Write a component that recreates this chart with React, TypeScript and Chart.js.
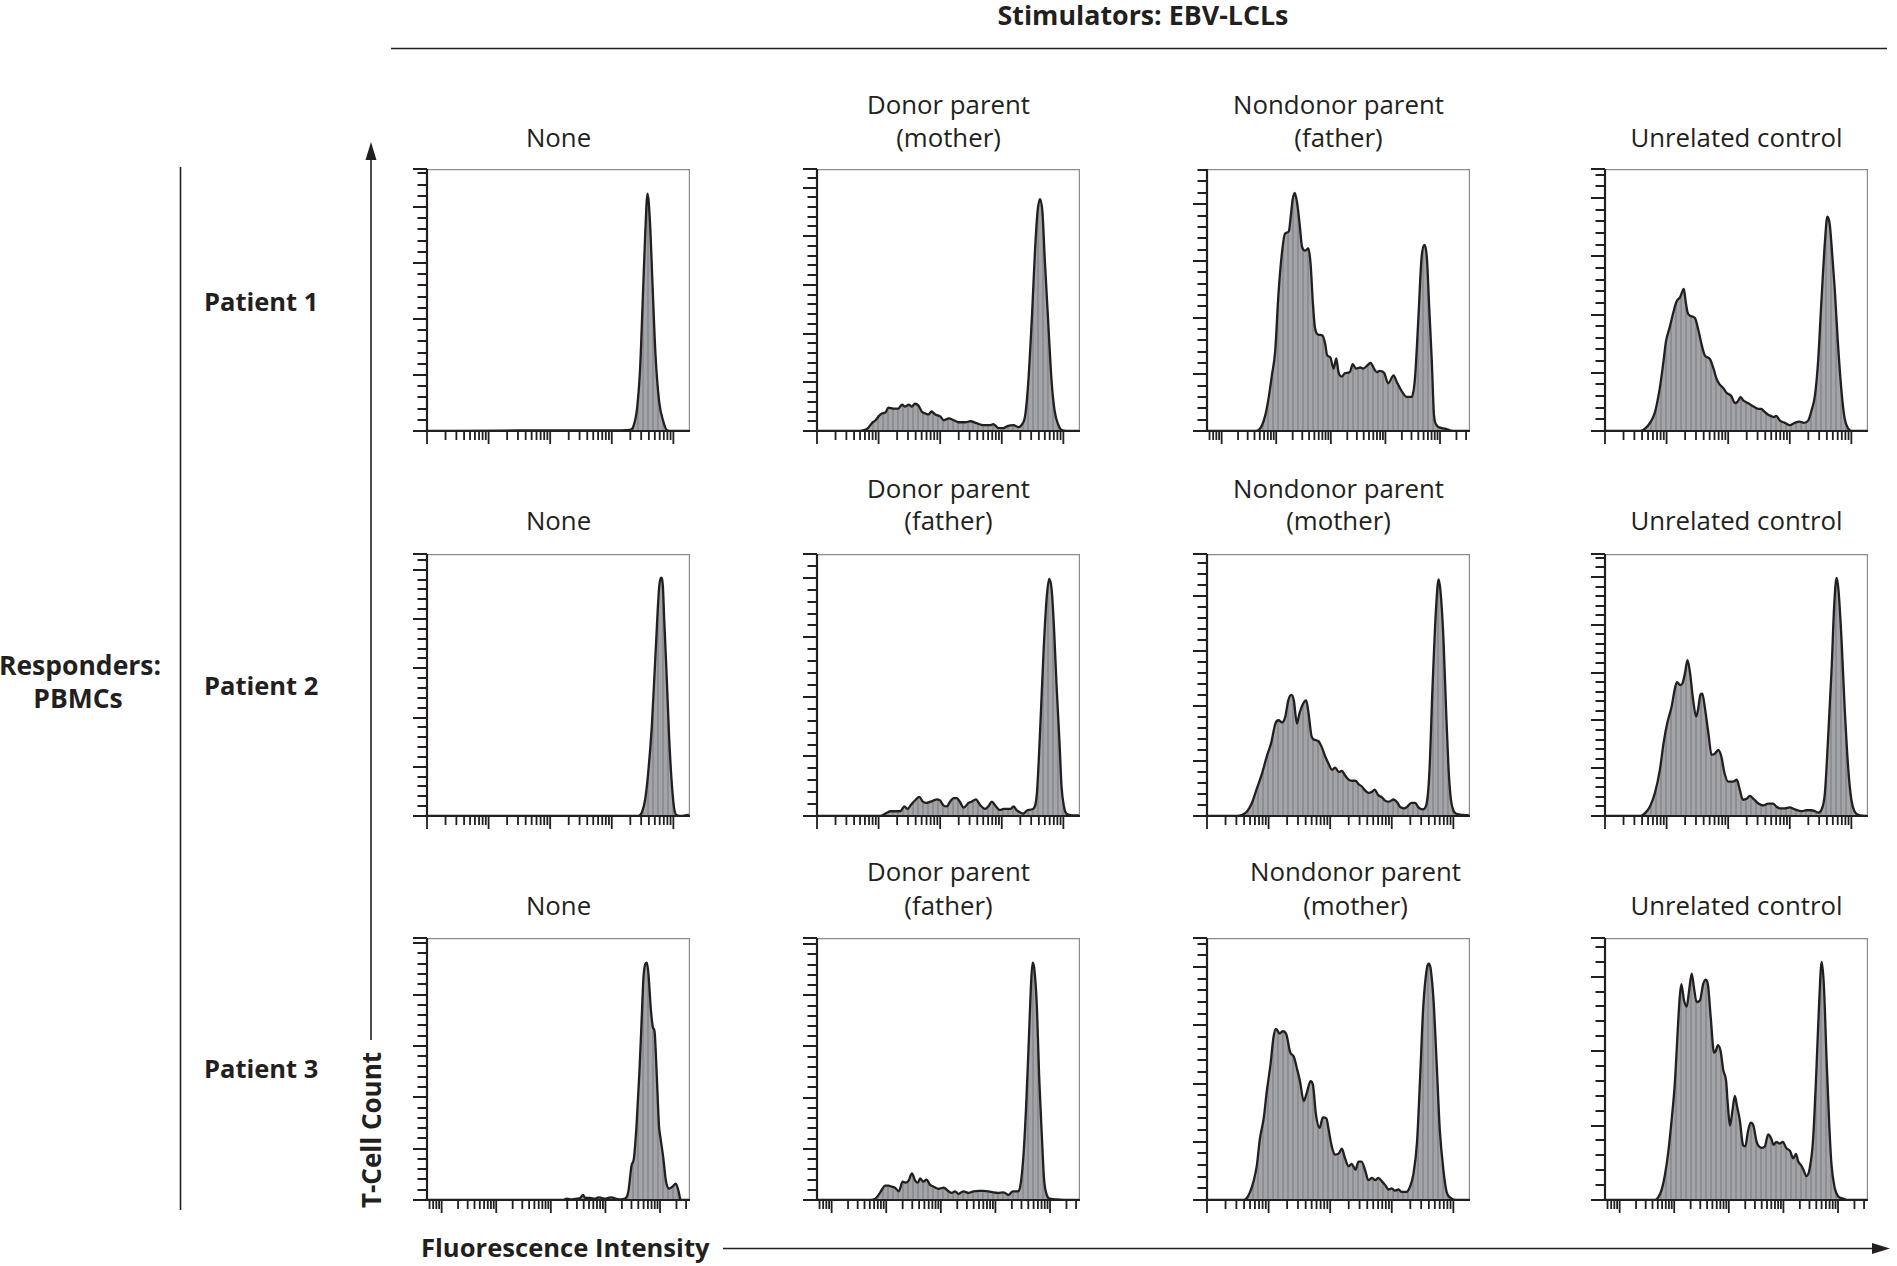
import React, { useEffect, useRef } from "react";
import { Chart, registerables } from "chart.js";
Chart.register(...registerables);

// ---------- Data (x = log10 fluorescence intensity, y = T-cell count in axis-tick units) ----------
// Patient 1
const r1c1X = [0, 1.19, 2.0, 2.59, 3.14, 3.30, 3.35, 3.41, 3.46, 3.50, 3.54, 3.58, 3.62, 3.66, 3.71, 3.77, 3.84, 3.89, 3.97, 4.27];
const r1c1Y = [0, 0.03, 0.06, 0.06, 0.06, 0.1, 0.4, 2.0, 5.6, 11.3, 17.2, 21.2, 18.7, 13.3, 6.8, 2.6, 0.8, 0.1, 0, 0];
const r1c2X = [0, 0.65, 0.81, 0.89, 0.95, 1.0, 1.05, 1.11, 1.16, 1.24, 1.32, 1.38, 1.43, 1.49, 1.54, 1.59, 1.65, 1.70, 1.76, 1.81, 1.86, 1.92, 2.0, 2.06, 2.14, 2.22, 2.30, 2.41, 2.49, 2.59, 2.70, 2.81, 2.86, 2.95, 3.03, 3.09, 3.19, 3.27, 3.32, 3.38, 3.43, 3.49, 3.54, 3.58, 3.62, 3.66, 3.70, 3.76, 3.81, 3.86, 3.92, 3.97, 4.05, 4.27];
const r1c2Y = [0, 0, 0.2, 0.8, 1.1, 1.5, 1.8, 1.9, 2.4, 2.3, 2.3, 2.7, 2.5, 2.7, 2.5, 2.8, 2.6, 2.0, 1.8, 1.7, 2.0, 1.7, 1.5, 1.1, 1.3, 1.1, 0.9, 0.9, 1.0, 0.8, 0.6, 0.6, 0.7, 0.3, 0.3, 0.5, 0.6, 0.4, 0.6, 1.6, 5.0, 11.8, 18.6, 22.5, 23.8, 22.5, 17.4, 10.5, 5.0, 2.0, 0.6, 0.1, 0, 0];
const r1c3X = [0.732, 1.585, 1.68, 1.74, 1.80, 1.86, 1.92, 1.98, 2.04, 2.10, 2.16, 2.23, 2.27, 2.30, 2.34, 2.38, 2.43, 2.47, 2.53, 2.59, 2.63, 2.67, 2.71, 2.77, 2.85, 2.90, 2.93, 2.99, 3.05, 3.10, 3.14, 3.20, 3.26, 3.35, 3.40, 3.46, 3.54, 3.59, 3.65, 3.73, 3.78, 3.84, 3.90, 3.98, 4.05, 4.15, 4.21, 4.30, 4.39, 4.48, 4.54, 4.60, 4.66, 4.71, 4.76, 4.80, 4.85, 4.89, 4.94, 5.0, 5.09, 5.18, 5.30, 5.549];
const r1c3Y = [0, 0, 0.1, 0.5, 1.4, 2.9, 4.9, 7.0, 12.0, 15.5, 17.4, 17.6, 19.1, 20.4, 21.0, 20.2, 18.2, 16.3, 15.9, 16.1, 14.7, 11.4, 9.1, 8.5, 8.4, 7.6, 6.7, 6.5, 5.5, 6.4, 5.2, 4.8, 5.1, 5.2, 5.9, 5.5, 5.6, 5.5, 5.7, 6.0, 5.6, 5.2, 5.3, 5.1, 4.2, 4.9, 4.3, 3.5, 3.0, 3.0, 4.6, 9.6, 15.2, 16.4, 15.2, 11.1, 6.1, 1.4, 0.5, 0.3, 0.2, 0.06, 0, 0];
const r1c4X = [0, 0.57, 0.65, 0.73, 0.81, 0.89, 0.95, 0.99, 1.05, 1.11, 1.16, 1.22, 1.28, 1.31, 1.34, 1.38, 1.46, 1.51, 1.57, 1.62, 1.70, 1.76, 1.81, 1.86, 1.92, 1.97, 2.05, 2.11, 2.15, 2.20, 2.25, 2.32, 2.41, 2.49, 2.54, 2.58, 2.65, 2.69, 2.74, 2.78, 2.84, 2.92, 3.0, 3.08, 3.16, 3.23, 3.30, 3.35, 3.41, 3.46, 3.51, 3.57, 3.61, 3.65, 3.69, 3.73, 3.78, 3.84, 3.89, 3.95, 4.0, 4.27];
const r1c4Y = [0, 0, 0.2, 0.7, 1.6, 3.7, 6.0, 7.7, 8.9, 10.2, 11.1, 11.5, 12.2, 11.1, 10.2, 9.9, 9.7, 8.8, 7.4, 6.5, 6.2, 5.4, 4.5, 4.0, 3.7, 3.3, 3.0, 2.4, 2.5, 2.9, 2.6, 2.4, 2.1, 1.9, 1.9, 1.7, 1.4, 1.3, 1.2, 1.3, 0.9, 0.7, 0.5, 0.7, 0.8, 0.7, 0.9, 1.7, 3.1, 6.0, 10.8, 16.2, 18.4, 17.7, 15.1, 12.2, 7.7, 3.4, 1.1, 0.2, 0, 0];
// Patient 2
const r2c1X = [0, 1.5, 3.0, 3.43, 3.49, 3.54, 3.59, 3.65, 3.70, 3.74, 3.77, 3.80, 3.83, 3.85, 3.89, 3.93, 3.97, 4.01, 4.05, 4.14, 4.19, 4.27];
const r2c1Y = [0, 0, 0, 0, 0.4, 1.6, 4.3, 9.1, 15.2, 20.2, 23.3, 24.2, 23.3, 20.2, 14.4, 8.2, 3.7, 0.9, 0.1, 0, 0.07, 0.14];
const r2c2X = [0, 1.03, 1.11, 1.19, 1.30, 1.35, 1.42, 1.47, 1.52, 1.59, 1.66, 1.72, 1.77, 1.84, 1.89, 1.95, 2.0, 2.05, 2.11, 2.16, 2.22, 2.27, 2.32, 2.38, 2.46, 2.51, 2.58, 2.65, 2.73, 2.78, 2.84, 2.89, 2.97, 3.03, 3.08, 3.14, 3.19, 3.24, 3.30, 3.35, 3.42, 3.51, 3.57, 3.62, 3.68, 3.73, 3.77, 3.81, 3.85, 3.89, 3.94, 3.97, 4.01, 4.05, 4.14, 4.27];
const r2c2Y = [0, 0, 0.2, 0.4, 0.4, 0.4, 0.8, 0.6, 0.9, 1.3, 1.6, 1.2, 1.1, 1.2, 1.3, 1.4, 1.3, 0.9, 0.8, 1.2, 1.5, 1.5, 1.2, 0.7, 1.1, 1.2, 1.4, 0.9, 0.6, 0.8, 1.2, 0.9, 0.5, 0.6, 0.6, 0.6, 0.8, 0.5, 0.3, 0.2, 0.5, 0.6, 1.9, 6.9, 14.0, 18.4, 19.9, 19.0, 15.6, 10.9, 5.9, 2.5, 0.8, 0.2, 0.06, 0.06];
const r2c3X = [0, 0.49, 0.57, 0.65, 0.73, 0.81, 0.89, 0.97, 1.04, 1.11, 1.16, 1.22, 1.27, 1.32, 1.37, 1.41, 1.46, 1.50, 1.56, 1.61, 1.65, 1.70, 1.76, 1.81, 1.86, 1.92, 1.97, 2.03, 2.08, 2.14, 2.19, 2.24, 2.30, 2.35, 2.41, 2.46, 2.51, 2.57, 2.62, 2.68, 2.72, 2.78, 2.84, 2.89, 2.95, 3.03, 3.08, 3.14, 3.20, 3.24, 3.32, 3.38, 3.43, 3.50, 3.56, 3.61, 3.66, 3.72, 3.76, 3.79, 3.84, 3.88, 3.92, 3.96, 4.0, 4.05, 4.16, 4.27];
const r2c3Y = [0, 0, 0.1, 0.4, 1.2, 2.5, 3.8, 5.4, 6.6, 8.4, 8.7, 8.5, 9.0, 10.5, 11.0, 10.5, 8.4, 9.3, 10.2, 10.5, 9.3, 7.2, 6.9, 6.8, 6.3, 5.4, 4.8, 4.2, 4.4, 4.0, 4.1, 3.7, 3.3, 3.2, 3.2, 2.9, 2.7, 2.3, 2.1, 2.2, 2.4, 1.9, 1.7, 1.4, 1.3, 1.5, 1.3, 0.8, 0.7, 0.8, 1.2, 1.2, 0.8, 0.6, 1.0, 3.9, 11.5, 19.0, 21.5, 20.5, 16.0, 9.9, 4.5, 1.5, 0.5, 0.2, 0.1, 0.06];
const r2c4X = [0, 0.57, 0.65, 0.73, 0.81, 0.89, 0.95, 1.01, 1.08, 1.14, 1.17, 1.22, 1.26, 1.30, 1.34, 1.38, 1.43, 1.48, 1.51, 1.55, 1.58, 1.62, 1.68, 1.73, 1.78, 1.84, 1.89, 1.94, 2.0, 2.08, 2.14, 2.19, 2.24, 2.30, 2.35, 2.41, 2.49, 2.57, 2.65, 2.73, 2.78, 2.84, 2.92, 3.0, 3.08, 3.19, 3.27, 3.35, 3.41, 3.46, 3.51, 3.57, 3.62, 3.68, 3.72, 3.76, 3.79, 3.84, 3.89, 3.95, 4.0, 4.05, 4.14, 4.27];
const r2c4Y = [0, 0, 0.3, 1.0, 2.4, 4.8, 7.6, 9.7, 11.4, 13.5, 14.0, 13.7, 13.9, 15.0, 16.3, 15.0, 12.2, 10.4, 11.1, 12.7, 12.8, 11.4, 8.6, 6.4, 6.5, 6.9, 6.2, 4.5, 3.6, 3.6, 3.8, 2.7, 1.7, 1.8, 2.1, 1.8, 1.3, 1.1, 1.3, 1.3, 1.0, 0.8, 0.8, 0.9, 0.7, 0.5, 0.6, 0.6, 0.5, 0.35, 0.6, 2.4, 7.9, 15.5, 21.9, 24.9, 23.7, 18.5, 11.5, 4.9, 1.7, 0.5, 0.07, 0];
// Patient 3
const r3c1X = [0.732, 2.5, 3.23, 3.29, 3.38, 3.48, 3.54, 3.59, 3.63, 3.72, 3.81, 3.87, 3.93, 3.99, 4.05, 4.12, 4.18, 4.27, 4.36, 4.42, 4.48, 4.52, 4.57, 4.62, 4.66, 4.70, 4.76, 4.79, 4.83, 4.87, 4.90, 4.94, 4.98, 5.01, 5.06, 5.11, 5.17, 5.23, 5.29, 5.34, 5.38, 5.549];
const r3c1Y = [0, 0, 0, 0.13, 0.06, 0.13, 0.2, 0.5, 0.2, 0.2, 0.13, 0.26, 0.2, 0.13, 0.2, 0.26, 0.13, 0.06, 0.13, 0.84, 3.4, 4.0, 7.3, 12.2, 17.1, 21.9, 23.1, 21.9, 18.7, 16.8, 16.4, 12.2, 7.3, 6.0, 4.1, 1.8, 1.1, 1.3, 1.6, 0.84, 0, 0];
const r3c2X = [0.732, 1.71, 1.80, 1.86, 1.92, 1.98, 2.04, 2.10, 2.16, 2.23, 2.30, 2.35, 2.41, 2.47, 2.53, 2.58, 2.62, 2.68, 2.74, 2.80, 2.87, 2.96, 3.05, 3.14, 3.20, 3.26, 3.32, 3.41, 3.51, 3.60, 3.69, 3.78, 3.87, 3.96, 4.05, 4.15, 4.24, 4.32, 4.42, 4.46, 4.51, 4.56, 4.61, 4.65, 4.68, 4.71, 4.76, 4.80, 4.85, 4.89, 4.94, 5.0, 5.12, 5.30, 5.549];
const r3c2Y = [0, 0, 0.13, 0.5, 1.0, 1.4, 1.4, 1.3, 1.2, 0.85, 1.8, 1.7, 1.9, 2.6, 1.9, 1.7, 2.1, 1.8, 2.0, 1.5, 1.3, 1.1, 1.2, 0.85, 0.7, 0.85, 0.6, 0.85, 0.7, 0.85, 0.9, 0.9, 0.85, 0.75, 0.7, 0.75, 0.5, 0.85, 0.85, 1.5, 4.1, 8.9, 15.4, 20.9, 23.2, 22.7, 18.8, 12.2, 6.3, 2.1, 0.5, 0.13, 0.06, 0, 0];
const r3c3X = [0, 0.59, 0.65, 0.70, 0.76, 0.81, 0.86, 0.92, 0.97, 1.03, 1.08, 1.12, 1.18, 1.23, 1.29, 1.35, 1.41, 1.46, 1.51, 1.57, 1.62, 1.68, 1.72, 1.77, 1.83, 1.88, 1.94, 1.97, 2.03, 2.08, 2.14, 2.19, 2.24, 2.30, 2.35, 2.41, 2.46, 2.51, 2.57, 2.62, 2.68, 2.73, 2.78, 2.84, 2.89, 2.95, 3.0, 3.05, 3.11, 3.16, 3.24, 3.30, 3.35, 3.41, 3.46, 3.51, 3.57, 3.60, 3.63, 3.68, 3.73, 3.78, 3.84, 3.89, 3.95, 4.03, 4.27];
const r3c3Y = [0, 0, 0.2, 0.7, 1.7, 3.0, 5.3, 7.0, 9.3, 11.6, 14.0, 14.7, 14.3, 14.5, 14.2, 12.7, 12.3, 11.3, 10.2, 8.5, 9.2, 10.2, 9.9, 7.3, 6.2, 7.1, 7.0, 6.2, 4.5, 3.9, 4.0, 4.4, 3.6, 2.9, 3.1, 2.6, 3.3, 3.3, 2.5, 1.7, 1.9, 1.7, 1.9, 1.6, 1.3, 0.9, 1.0, 0.8, 0.9, 0.7, 0.7, 1.2, 2.2, 5.0, 10.5, 16.5, 19.9, 20.3, 19.9, 17.0, 11.6, 6.0, 2.5, 0.7, 0.2, 0, 0];
const r3c4X = [0.732, 1.65, 1.71, 1.77, 1.83, 1.89, 1.95, 2.01, 2.07, 2.10, 2.13, 2.18, 2.23, 2.27, 2.32, 2.36, 2.41, 2.47, 2.53, 2.58, 2.62, 2.67, 2.73, 2.76, 2.80, 2.85, 2.90, 2.95, 2.98, 3.02, 3.07, 3.11, 3.15, 3.20, 3.26, 3.30, 3.35, 3.40, 3.45, 3.51, 3.60, 3.66, 3.72, 3.78, 3.82, 3.87, 3.93, 3.99, 4.05, 4.12, 4.18, 4.23, 4.27, 4.33, 4.37, 4.42, 4.48, 4.54, 4.60, 4.65, 4.70, 4.74, 4.79, 4.84, 4.88, 4.94, 5.0, 5.09, 5.18, 5.549];
const r3c4Y = [0, 0, 0.2, 0.7, 1.7, 3.2, 5.3, 7.8, 11.8, 13.6, 14.5, 13.4, 13.0, 14.0, 15.2, 14.3, 13.3, 13.4, 14.5, 14.8, 14.4, 12.2, 9.9, 10.0, 10.4, 10.0, 8.7, 8.0, 6.5, 5.0, 6.1, 7.0, 6.3, 5.4, 3.7, 3.6, 4.6, 5.2, 5.0, 3.9, 3.5, 3.6, 4.4, 4.1, 3.7, 3.9, 3.8, 3.9, 3.5, 3.3, 2.8, 3.1, 2.6, 2.3, 2.0, 1.6, 2.1, 3.9, 8.4, 12.9, 16.0, 14.5, 9.5, 5.0, 2.4, 0.8, 0.25, 0.1, 0, 0];

// Axis ranges
const Y_MAX = [
  [23.4, 26.9, 23.1, 22.5],
  [26.6, 22.0, 23.8, 27.4],
  [25.5, 25.6, 22.5, 17.6],
];
const X_RANGE_A = [0, 4.27];
const X_RANGE_B = [0.732, 5.549];
const X_SCALE_TYPE = [
  ["A", "A", "B", "A"],
  ["A", "A", "A", "A"],
  ["B", "B", "A", "B"],
];

// Labels
const TOP_TITLE = "Stimulators: EBV-LCLs";
const PATIENTS = ["Patient 1", "Patient 2", "Patient 3"];
const ROW_TITLES = [
  [["None"], ["Donor parent", "(mother)"], ["Nondonor parent", "(father)"], ["Unrelated control"]],
  [["None"], ["Donor parent", "(father)"], ["Nondonor parent", "(mother)"], ["Unrelated control"]],
  [["None"], ["Donor parent", "(father)"], ["Nondonor parent", "(mother)"], ["Unrelated control"]],
];
const RESPONDERS = ["Responders:", "PBMCs"];
const Y_TITLE = "T-Cell Count";
const X_TITLE = "Fluorescence Intensity";

const SERIES = [
  [[r1c1X, r1c1Y], [r1c2X, r1c2Y], [r1c3X, r1c3Y], [r1c4X, r1c4Y]],
  [[r2c1X, r2c1Y], [r2c2X, r2c2Y], [r2c3X, r2c3Y], [r2c4X, r2c4Y]],
  [[r3c1X, r3c1Y], [r3c2X, r3c2Y], [r3c3X, r3c3Y], [r3c4X, r3c4Y]],
];

// ---------- Layout ----------
const COL_LEFT = [427, 817, 1207, 1605];
const ROW_TOP = [169, 554, 938];
const PLOT_W = 263;
const PLOT_H = 262;
const PAD = { l: 20, t: 4, r: 4, b: 18 };
const TITLE_Y = [[105, 138], [489, 521], [872, 906]];
const INK = "#231f20";
const FONT = "'Open Sans', sans-serif";

const framePlugin = {
  id: "panelFrame",
  afterDatasetsDraw(chart: any) {
    const { ctx, chartArea, scales } = chart;
    const { left, right, top, bottom } = chartArea;
    const xs = scales.x;
    const ys = scales.y;
    const yMax = ys.max;
    const xMin = xs.min;
    const xMax = xs.max;
    ctx.save();
    ctx.strokeStyle = "#8c8c8c";
    ctx.lineWidth = 1.2;
    ctx.beginPath();
    ctx.moveTo(left, top + 0.6);
    ctx.lineTo(right - 0.6, top + 0.6);
    ctx.lineTo(right - 0.6, bottom);
    ctx.stroke();
    ctx.strokeStyle = INK;
    ctx.lineWidth = 1.8;
    ctx.beginPath();
    const yt: number[] = [];
    for (let v = 0; v <= yMax + 1e-9; v++) yt.push(v);
    if (yMax - Math.floor(yMax) > 0.15) yt.push(yMax);
    yt.forEach((v) => {
      const py = Math.round(ys.getPixelForValue(v));
      const len = v % 5 === 0 || v === yMax ? 14 : 9.5;
      ctx.moveTo(left - len, py);
      ctx.lineTo(left, py);
    });
    for (let d = Math.floor(xMin); d <= Math.ceil(xMax); d++) {
      for (let k = 1; k <= 9; k++) {
        const v = d + Math.log10(k);
        if (v < xMin - 1e-6 || v > xMax + 1e-6) continue;
        const px = xs.getPixelForValue(v);
        const len = k === 1 ? 13 : 9;
        ctx.moveTo(px, bottom);
        ctx.lineTo(px, bottom + len);
      }
    }
    ctx.stroke();
    ctx.lineWidth = 2.2;
    ctx.beginPath();
    ctx.moveTo(left, top);
    ctx.lineTo(left, bottom);
    ctx.lineTo(right, bottom);
    ctx.stroke();
    ctx.restore();
  },
};

function Panel({ row, col }: { row: number; col: number }) {
  const ref = useRef<HTMLCanvasElement | null>(null);
  useEffect(() => {
    const canvas = ref.current;
    if (!canvas) return;
    const ctx = canvas.getContext("2d")!;
    const pc = document.createElement("canvas");
    pc.width = 5;
    pc.height = 4;
    const g = pc.getContext("2d")!;
    g.fillStyle = "#a2a4a8";
    g.fillRect(0, 0, 5, 4);
    g.fillStyle = "#8d8f93";
    g.fillRect(0, 0, 2, 4);
    const pattern = ctx.createPattern(pc, "repeat");
    const [xsArr, ysArr] = SERIES[row][col];
    const range = X_SCALE_TYPE[row][col] === "A" ? X_RANGE_A : X_RANGE_B;
    const chart = new Chart(canvas, {
      type: "line",
      data: {
        datasets: [
          {
            data: xsArr.map((x: number, i: number) => ({ x, y: ysArr[i] })),
            borderColor: INK,
            borderWidth: 2.3,
            backgroundColor: pattern as any,
            fill: "origin",
            pointRadius: 0,
            tension: 0.4,
            cubicInterpolationMode: "monotone",
          },
        ],
      },
      options: {
        animation: false,
        responsive: false,
        devicePixelRatio: 1,
        events: [],
        layout: { padding: { left: PAD.l, top: PAD.t, right: PAD.r, bottom: PAD.b } },
        plugins: { legend: { display: false }, tooltip: { enabled: false } },
        scales: {
          x: { type: "linear", min: range[0], max: range[1], display: false },
          y: { type: "linear", min: 0, max: Y_MAX[row][col], display: false },
        },
      } as any,
      plugins: [framePlugin],
    });
    return () => chart.destroy();
  }, [row, col]);
  const w = PLOT_W + PAD.l + PAD.r;
  const h = PLOT_H + PAD.t + PAD.b;
  return (
    <canvas
      ref={ref}
      width={w}
      height={h}
      style={{
        position: "absolute",
        left: COL_LEFT[col] - PAD.l,
        top: ROW_TOP[row] - PAD.t,
        width: w,
        height: h,
      }}
    />
  );
}

function Label({
  x,
  y,
  text,
  size = 25.8,
  bold = false,
  align = "center",
  rotate = 0,
}: {
  x: number;
  y: number;
  text: string;
  size?: number;
  bold?: boolean;
  align?: "center" | "left";
  rotate?: number;
}) {
  const tx = align === "center" ? "-50%" : "0";
  return (
    <div
      style={{
        position: "absolute",
        left: x,
        top: y,
        transform: `translate(${tx}, -50%)${rotate ? ` rotate(${rotate}deg)` : ""}`,
        whiteSpace: "nowrap",
        fontFamily: FONT,
        fontSize: size,
        fontWeight: bold ? 700 : 400,
        lineHeight: 1,
        color: INK,
      }}
    >
      {text}
    </div>
  );
}

export default function App() {
  const labels: React.ReactNode[] = [];
  ROW_TITLES.forEach((row, r) => {
    row.forEach((lines, c) => {
      const cx = COL_LEFT[c] + PLOT_W / 2 + (r === 2 && c === 2 ? 17 : 0);
      if (lines.length === 1) {
        labels.push(<Label key={`t${r}${c}`} x={cx} y={TITLE_Y[r][1]} text={lines[0]} />);
      } else {
        labels.push(<Label key={`t${r}${c}a`} x={cx} y={TITLE_Y[r][0]} text={lines[0]} />);
        labels.push(<Label key={`t${r}${c}b`} x={cx} y={TITLE_Y[r][1]} text={lines[1]} />);
      }
    });
  });
  const panels: React.ReactNode[] = [];
  for (let r = 0; r < 3; r++) for (let c = 0; c < 4; c++) panels.push(<Panel key={`p${r}${c}`} row={r} col={c} />);

  return (
    <div
      style={{
        position: "fixed",
        left: 0,
        top: 0,
        width: 1897,
        height: 1266,
        background: "#ffffff",
        overflow: "hidden",
      }}
    >
      <svg width={1897} height={1266} style={{ position: "absolute", left: 0, top: 0 }}>
        <line x1={391} y1={48.5} x2={1887} y2={48.5} stroke={INK} strokeWidth={1.6} />
        <line x1={180.5} y1={167} x2={180.5} y2={1210} stroke={INK} strokeWidth={1.6} />
        <line x1={371} y1={156} x2={371} y2={1040} stroke={INK} strokeWidth={1.6} />
        <polygon points="371,142 365.5,160 376.5,160" fill={INK} />
        <line x1={723} y1={1248.5} x2={1876} y2={1248.5} stroke={INK} strokeWidth={1.6} />
        <polygon points="1890,1248.5 1872,1243 1872,1254" fill={INK} />
      </svg>
      {panels}
      <Label x={1143} y={15} text={TOP_TITLE} size={26.8} bold />
      {labels}
      {PATIENTS.map((p, i) => (
        <Label key={p} x={204} y={[302, 686, 1069][i]} text={p} size={25.5} bold align="left" />
      ))}
      <Label x={80} y={665} text={RESPONDERS[0]} size={26.5} bold />
      <Label x={78} y={698} text={RESPONDERS[1]} size={26.5} bold />
      <Label x={371} y={1130} text={Y_TITLE} size={26} bold rotate={-90} />
      <Label x={421} y={1248} text={X_TITLE} size={25.6} bold align="left" />
    </div>
  );
}
